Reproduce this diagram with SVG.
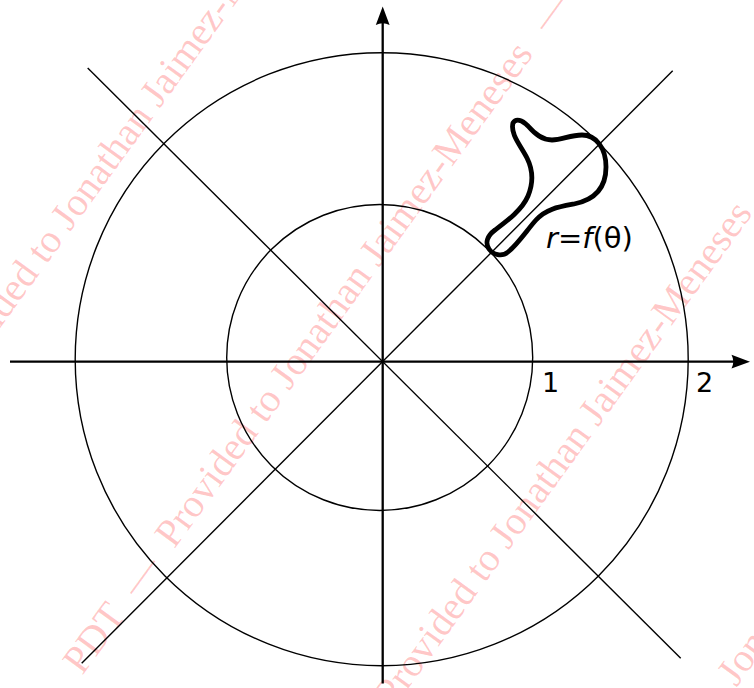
<svg xmlns="http://www.w3.org/2000/svg" width="754" height="688" viewBox="0 0 754 688">
<style>
.wm{font-family:"Liberation Serif","Times New Roman",serif;font-size:40px;fill:#ff0000;fill-opacity:0.22}
.thin{fill:none;stroke:#000;stroke-width:1.4}
.axis{fill:none;stroke:#000;stroke-width:2.3}
.head{fill:#000;stroke:none}
.lbl{font-family:"DejaVu Sans",sans-serif;font-size:27px;fill:#000}
.big{font-size:29px}
</style>
<rect width="754" height="688" fill="#fff"/>
<g id="watermark" transform="rotate(-54)">
<text class="wm" x="-423" y="464" text-anchor="end">PDT</text>
<text class="wm" x="-383" y="464" text-anchor="middle">—</text>
<text class="wm" x="-342" y="464">Provided to Jonathan Jaimez-Meneses</text>
<text class="wm" x="315" y="464" text-anchor="middle">—</text>
<text class="wm" x="-342" y="193">Provided to Jonathan Jaimez-Meneses</text>
<text class="wm" x="-342" y="735">Provided to Jonathan Jaimez-Meneses</text>
<text class="wm" x="-319" y="1000">Provided to Jonathan</text>
</g>
<g id="circles">
<circle id="inner-circle" class="thin" cx="379.7" cy="357.5" r="153"/>
<circle id="outer-circle" class="thin" cx="381.7" cy="359.2" r="306.5"/>
</g>
<g id="connectors">
<line class="thin" x1="87.7" y1="68" x2="680.7" y2="658.3"/>
<line class="thin" x1="81.7" y1="663.3" x2="672.7" y2="70.7"/>
<line class="axis" x1="10" y1="361.7" x2="738" y2="361.7"/>
<path class="head" d="M750,361.7 L731.5,354.8 Q735,361.7 731.5,368.6 Z"/>
<line class="axis" x1="382.7" y1="683.5" x2="382.7" y2="19"/>
<path class="head" d="M382.7,6.5 L375.8,25 Q382.7,21.5 389.6,25 Z"/>
</g>
<g id="curve">
<path fill="none" stroke="#000" stroke-width="4.8" stroke-linejoin="round" d="M513,123 C516,118 522,120 528,126 C535,134 542,140 552,140 C562,140 570,135 582,135 C596,135 606,148 606,167 C606,189 594,200 574,204 C558,207 546,209 536,220 C527,230 518,244 508,252 C502,257 493,255 489,249 C485,243 487,236 495,230 C507,221 522,210 528,196 C533,184 533,170 527,158 C521,146 510,134 513,123 Z"/>
<text class="lbl big" x="546" y="248"><tspan font-style="italic">r</tspan>=<tspan font-style="italic">f</tspan>(θ)</text>
</g>
<g id="labels">
<text class="lbl" x="542" y="392">1</text>
<text class="lbl" x="696" y="392">2</text>
</g>
</svg>
